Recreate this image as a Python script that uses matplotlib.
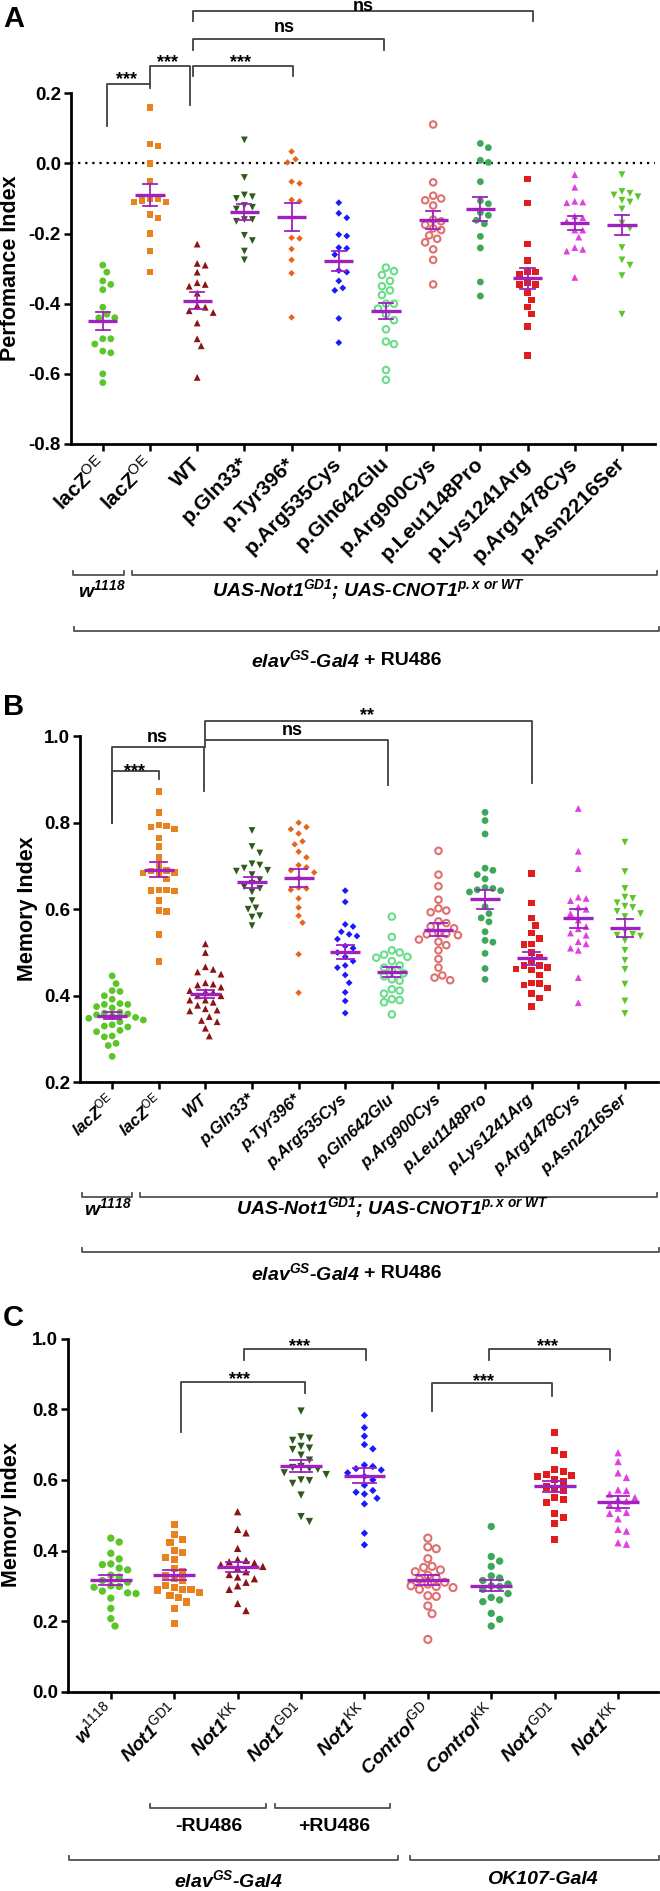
import numpy as np
import matplotlib
matplotlib.use('Agg')
import matplotlib.pyplot as plt
from matplotlib.lines import Line2D
from matplotlib.transforms import offset_copy

plt.rcParams['font.family'] = ['Liberation Sans', 'DejaVu Sans']
plt.rcParams['mathtext.fontset'] = 'custom'
plt.rcParams['mathtext.rm'] = 'Liberation Sans'
plt.rcParams['mathtext.it'] = 'Liberation Sans:italic'
plt.rcParams['mathtext.bf'] = 'Liberation Sans:bold'
plt.rcParams['mathtext.bfit'] = 'Liberation Sans:italic:bold'
plt.rcParams['axes.unicode_minus'] = False

# ---------------- data ----------------
a_labels = ['lacZ$^{\\mathrm{OE}}$', 'lacZ$^{\\mathrm{OE}}$', 'WT', 'p.Gln33*', 'p.Tyr396*',
            'p.Arg535Cys', 'p.Gln642Glu', 'p.Arg900Cys', 'p.Leu1148Pro',
            'p.Lys1241Arg', 'p.Arg1478Cys', 'p.Asn2216Ser']
b_labels = a_labels
c_labels = ['w$^{\\mathrm{1118}}$', 'Not1$^{\\mathrm{GD1}}$', 'Not1$^{\\mathrm{KK}}$',
            'Not1$^{\\mathrm{GD1}}$', 'Not1$^{\\mathrm{KK}}$', 'Control$^{\\mathrm{GD}}$',
            'Control$^{\\mathrm{KK}}$', 'Not1$^{\\mathrm{GD1}}$', 'Not1$^{\\mathrm{KK}}$']

a_yticks = [-0.8, -0.6, -0.4, -0.2, 0.0, 0.2]
b_yticks = [0.2, 0.4, 0.6, 0.8, 1.0]
c_yticks = [0.0, 0.2, 0.4, 0.6, 0.8, 1.0]

# Panel A: performance index
a_lacz_w = [-0.29, -0.31, -0.335, -0.345, -0.36, -0.41, -0.43, -0.44, -0.44, -0.50, -0.50,
            -0.515, -0.535, -0.54, -0.60, -0.625]
a_lacz_uas = [0.16, 0.055, 0.05, 0.0, -0.05, -0.10, -0.10, -0.105, -0.11, -0.11, -0.145,
              -0.155, -0.20, -0.25, -0.31]
a_wt = [-0.23, -0.285, -0.29, -0.31, -0.34, -0.345, -0.35, -0.37, -0.405, -0.41, -0.42,
        -0.425, -0.455, -0.50, -0.52, -0.61]
a_gln33 = [0.067, -0.04, -0.09, -0.095, -0.10, -0.12, -0.125, -0.13, -0.16, -0.16, -0.165,
           -0.205, -0.22, -0.25, -0.275]
a_tyr396 = [0.034, 0.012, 0.003, -0.052, -0.057, -0.104, -0.108, -0.212, -0.214, -0.244,
            -0.275, -0.313, -0.439]
a_arg535 = [-0.112, -0.142, -0.155, -0.203, -0.207, -0.24, -0.242, -0.26, -0.305, -0.31,
            -0.335, -0.355, -0.362, -0.442, -0.511]
a_gln642 = [-0.297, -0.307, -0.318, -0.335, -0.35, -0.362, -0.375, -0.40, -0.40, -0.414,
            -0.43, -0.447, -0.473, -0.508, -0.515, -0.589, -0.617]
a_arg900 = [0.111, -0.054, -0.092, -0.10, -0.105, -0.12, -0.16, -0.165, -0.175, -0.185,
            -0.19, -0.205, -0.215, -0.225, -0.245, -0.275, -0.345]
a_leu1148 = [0.057, 0.045, 0.009, 0.003, -0.052, -0.106, -0.115, -0.14, -0.148, -0.162,
             -0.172, -0.208, -0.241, -0.338, -0.378]
a_lys1241 = [-0.045, -0.113, -0.23, -0.277, -0.31, -0.31, -0.315, -0.34, -0.345, -0.345,
             -0.37, -0.39, -0.41, -0.43, -0.465, -0.548]
a_arg1478 = [-0.032, -0.068, -0.108, -0.11, -0.112, -0.15, -0.155, -0.165, -0.19, -0.19,
             -0.21, -0.24, -0.245, -0.25, -0.325]
a_asn2216 = [-0.032, -0.08, -0.085, -0.09, -0.095, -0.105, -0.11, -0.13, -0.17, -0.185,
             -0.24, -0.275, -0.29, -0.32, -0.43]

# Panel B: memory index
b_lacz_w = [0.446, 0.428, 0.412, 0.41, 0.40, 0.392, 0.382, 0.38, 0.38, 0.375, 0.372, 0.362,
            0.36, 0.358, 0.356, 0.353, 0.35, 0.348, 0.344, 0.34, 0.333, 0.33, 0.328, 0.317,
            0.307, 0.305, 0.29, 0.285, 0.26, 0.32]
b_lacz_uas = [0.872, 0.824, 0.795, 0.792, 0.79, 0.785, 0.765, 0.745, 0.72, 0.70, 0.688,
              0.685, 0.684, 0.68, 0.67, 0.645, 0.645, 0.643, 0.642, 0.62, 0.597, 0.595,
              0.542, 0.479, 0.69]
b_wt = [0.52, 0.50, 0.467, 0.461, 0.455, 0.45, 0.43, 0.427, 0.425, 0.42, 0.412, 0.41,
        0.408, 0.40, 0.40, 0.39, 0.39, 0.378, 0.37, 0.367, 0.365, 0.352, 0.343, 0.34,
        0.325, 0.307, 0.385]
b_gln33 = [0.782, 0.745, 0.73, 0.705, 0.702, 0.695, 0.69, 0.688, 0.68, 0.668, 0.66, 0.652,
           0.648, 0.64, 0.62, 0.603, 0.60, 0.585, 0.582, 0.562]
b_tyr396 = [0.80, 0.79, 0.785, 0.775, 0.757, 0.75, 0.733, 0.72, 0.702, 0.697, 0.69, 0.685,
            0.672, 0.65, 0.648, 0.645, 0.625, 0.604, 0.585, 0.569, 0.496, 0.407]
b_arg535 = [0.643, 0.617, 0.565, 0.56, 0.548, 0.542, 0.538, 0.531, 0.515, 0.51, 0.50, 0.49,
            0.48, 0.47, 0.465, 0.448, 0.43, 0.408, 0.388, 0.36]
b_gln642 = [0.583, 0.536, 0.505, 0.50, 0.495, 0.49, 0.488, 0.48, 0.47, 0.465, 0.458, 0.452,
            0.445, 0.438, 0.435, 0.415, 0.412, 0.405, 0.392, 0.39, 0.385, 0.357]
b_arg900 = [0.735, 0.68, 0.653, 0.622, 0.602, 0.597, 0.593, 0.572, 0.568, 0.56, 0.556,
            0.545, 0.543, 0.542, 0.54, 0.53, 0.525, 0.517, 0.505, 0.485, 0.465, 0.447,
            0.442, 0.436]
b_leu1148 = [0.824, 0.805, 0.774, 0.695, 0.69, 0.68, 0.67, 0.65, 0.648, 0.645, 0.643, 0.64,
             0.58, 0.606, 0.59, 0.571, 0.548, 0.528, 0.524, 0.498, 0.463, 0.438]
b_lys1241 = [0.683, 0.615, 0.58, 0.562, 0.545, 0.532, 0.52, 0.518, 0.50, 0.49, 0.48, 0.47,
             0.465, 0.462, 0.46, 0.448, 0.43, 0.428, 0.425, 0.418, 0.405, 0.395, 0.375, 0.47]
b_arg1478 = [0.833, 0.734, 0.694, 0.628, 0.625, 0.62, 0.605, 0.60, 0.59, 0.575, 0.56, 0.555,
             0.545, 0.54, 0.525, 0.52, 0.51, 0.505, 0.442, 0.384]
b_asn2216 = [0.755, 0.687, 0.648, 0.628, 0.625, 0.615, 0.607, 0.604, 0.595, 0.59, 0.583,
             0.55, 0.542, 0.54, 0.538, 0.528, 0.505, 0.482, 0.461, 0.427, 0.388, 0.359]

# Panel C: memory index
c_w1118 = [0.435, 0.424, 0.392, 0.376, 0.362, 0.36, 0.35, 0.345, 0.33, 0.325, 0.315, 0.31,
           0.30, 0.298, 0.296, 0.285, 0.28, 0.278, 0.265, 0.236, 0.207, 0.186]
c_gd1_minus = [0.474, 0.446, 0.432, 0.423, 0.40, 0.394, 0.381, 0.375, 0.35, 0.34, 0.33, 0.32,
               0.315, 0.30, 0.295, 0.29, 0.29, 0.288, 0.28, 0.272, 0.267, 0.254, 0.236, 0.192]
c_kk_minus = [0.51, 0.46, 0.45, 0.406, 0.375, 0.372, 0.368, 0.365, 0.36, 0.355, 0.35, 0.34,
              0.332, 0.325, 0.32, 0.30, 0.29, 0.31, 0.25, 0.23]
c_gd1_plus = [0.795, 0.722, 0.718, 0.712, 0.695, 0.69, 0.686, 0.67, 0.656, 0.638, 0.635,
              0.632, 0.63, 0.62, 0.615, 0.60, 0.598, 0.59, 0.557, 0.496, 0.482]
c_kk_plus = [0.783, 0.748, 0.724, 0.70, 0.688, 0.642, 0.638, 0.632, 0.628, 0.62, 0.61, 0.60,
             0.585, 0.57, 0.565, 0.56, 0.548, 0.532, 0.449, 0.416]
c_ctrl_gd = [0.435, 0.41, 0.405, 0.377, 0.355, 0.352, 0.345, 0.34, 0.33, 0.322, 0.318, 0.31,
             0.305, 0.30, 0.298, 0.295, 0.29, 0.272, 0.27, 0.243, 0.221, 0.148]
c_ctrl_kk = [0.468, 0.383, 0.37, 0.355, 0.328, 0.322, 0.315, 0.305, 0.30, 0.298, 0.29,
             0.278, 0.267, 0.26, 0.255, 0.222, 0.205, 0.186]
c_gd1_ok = [0.733, 0.684, 0.673, 0.63, 0.625, 0.615, 0.612, 0.61, 0.60, 0.595, 0.58, 0.575,
            0.57, 0.55, 0.545, 0.535, 0.505, 0.494, 0.477, 0.43]
c_kk_ok = [0.677, 0.652, 0.62, 0.607, 0.572, 0.57, 0.56, 0.55, 0.545, 0.54, 0.53, 0.52,
           0.508, 0.505, 0.49, 0.46, 0.455, 0.422, 0.418]

a_series = [a_lacz_w, a_lacz_uas, a_wt, a_gln33, a_tyr396, a_arg535, a_gln642, a_arg900,
            a_leu1148, a_lys1241, a_arg1478, a_asn2216]
b_series = [b_lacz_w, b_lacz_uas, b_wt, b_gln33, b_tyr396, b_arg535, b_gln642, b_arg900,
            b_leu1148, b_lys1241, b_arg1478, b_asn2216]
c_series = [c_w1118, c_gd1_minus, c_kk_minus, c_gd1_plus, c_kk_plus, c_ctrl_gd, c_ctrl_kk,
            c_gd1_ok, c_kk_ok]

# ---------------- styles ----------------
GREEN = '#5cc52a'; ORANGE = '#e8821e'; DRED = '#8b1414'; DGREEN = '#2d5a1b'
ORED = '#e8641a'; BLUE = '#1a1aff'; LGREEN = '#6add8a'; SALMON = '#e07070'
MGREEN = '#3ea85a'; RED = '#e01c1c'; MAGENTA = '#e040e0'
PURPLE = '#a020c0'
BR = '#404040'

ab_styles = [('o', GREEN, True, 24), ('s', ORANGE, True, 22), ('^', DRED, True, 24),
             ('v', DGREEN, True, 24), ('D', ORED, True, 11), ('D', BLUE, True, 12),
             ('o', LGREEN, False, 22), ('o', SALMON, False, 22), ('o', MGREEN, True, 24),
             ('s', RED, True, 22), ('^', MAGENTA, True, 24), ('v', GREEN, True, 24)]
c_styles = [('o', GREEN, True, 28), ('s', ORANGE, True, 26), ('^', DRED, True, 28),
            ('v', DGREEN, True, 28), ('D', BLUE, True, 14), ('o', SALMON, False, 26),
            ('o', MGREEN, True, 28), ('s', RED, True, 26), ('^', MAGENTA, True, 28)]

W, H = 660, 1891
fig = plt.figure(figsize=(W / 100, H / 100), dpi=100)


def fx(x):
    return x / W


def fy(y):
    return 1 - y / H


def make_ax(l, r, t, b):
    return fig.add_axes([fx(l), fy(b), (r - l) / W, (b - t) / H])


def swarm(vals, xpx, ypx, d):
    vals = np.asarray(vals, float)
    order = np.argsort(-vals)
    placed = []
    offs = np.zeros(len(vals))
    cands = [0.0]
    for j in range(1, 40):
        cands += [j * d * 0.5, -j * d * 0.5]
    for i in order:
        y = vals[i] * ypx
        for c in cands:
            if all((c - px) ** 2 + (y - py) ** 2 >= d * d for px, py in placed):
                break
        placed.append((c, y))
        offs[i] = c / xpx
    return offs


def draw_points(ax, series, styles, xpx, ypx, d, hw_m, hw_s):
    for i, (vals, (mk, col, filled, s)) in enumerate(zip(series, styles)):
        v = np.asarray(vals, float)
        x = i + swarm(v, xpx, ypx, d)
        if filled:
            ax.scatter(x, v, s=s, marker=mk, color=col, edgecolors='none', zorder=3, clip_on=False)
        else:
            ax.scatter(x, v, s=s, marker=mk, facecolors='none', edgecolors=col,
                       linewidths=1.5, zorder=3, clip_on=False)
        m = v.mean()
        se = v.std(ddof=1) / np.sqrt(len(v))
        ax.plot([i - hw_m, i + hw_m], [m, m], color=PURPLE, lw=2.4, zorder=5, solid_capstyle='butt')
        for yy in (m - se, m + se):
            ax.plot([i - hw_s, i + hw_s], [yy, yy], color=PURPLE, lw=1.3, zorder=5)
        ax.plot([i, i], [m - se, m + se], color=PURPLE, lw=1.3, zorder=5)


def style_ax(ax, xlim, ylim, yticks, labels, xfs, italic, rot, xpad=6):
    ax.set_xlim(*xlim)
    ax.set_ylim(*ylim)
    for sp in ('top', 'right'):
        ax.spines[sp].set_visible(False)
    for sp in ('left', 'bottom'):
        ax.spines[sp].set_linewidth(2.0)
    ax.set_yticks(yticks)
    ax.set_yticklabels(['%.1f' % t for t in yticks], fontsize=13.5, fontweight='bold')
    ax.set_xticks(range(len(labels)))
    ax.set_xticklabels(labels, rotation=rot, ha='right', va='center', rotation_mode='anchor',
                       fontsize=xfs, fontweight='bold', fontstyle='italic' if italic else 'normal')
    ax.tick_params(axis='both', width=1.8, length=5)
    ax.tick_params(axis='y', pad=2)
    ax.tick_params(axis='x', pad=xpad)


def comp(ax, x0, x1, ytop, yl, yr, text, tx, ty, fs=13):
    ax.plot([x0, x0, x1, x1], [yl, ytop, ytop, yr], color=BR, lw=1.3, clip_on=False)
    em = fs / 0.72
    off = 0.585 * em if '*' in text else 0.27 * em
    tr = offset_copy(ax.transData, fig=fig, x=0, y=-off, units='dots')
    ax.text(tx, ty, text, transform=tr, ha='center', va='baseline', fontsize=fs,
            fontweight='bold', clip_on=False)


def gbracket(x0, x1, y, up=4):
    fig.add_artist(Line2D([fx(x0), fx(x0), fx(x1), fx(x1)], [fy(y - up), fy(y), fy(y), fy(y - up)],
                          color='#505050', lw=1.3))


def ftext(x, y, s, fs=14, style='italic', ha='center', weight='bold'):
    fig.text(fx(x), fy(y), s, ha=ha, va='center', fontsize=fs, fontweight=weight, fontstyle=style)


# ---------------- Panel A ----------------
axA = make_ax(70.7, 655, 93.3, 444)
style_ax(axA, (-0.68, 11.70), (-0.8, 0.2), a_yticks, a_labels, 15, False, 45, xpad=7)
draw_points(axA, a_series, ab_styles, 47.2, 351, 8.0, 0.31, 0.15)
axA.axhline(0, color='black', lw=1.6, ls=(0, (1, 2.2)), zorder=1)
comp(axA, 0.08, 1.0, 0.226, 0.107, 0.215, '***', 0.51, 0.255)
comp(axA, 1.0, 1.85, 0.278, 0.226, 0.167, '***', 1.38, 0.306)
comp(axA, 1.92, 4.02, 0.278, 0.249, 0.249, '***', 2.91, 0.306)
comp(axA, 1.92, 5.95, 0.354, 0.323, 0.323, 'ns', 3.84, 0.39)
comp(axA, 1.92, 9.12, 0.435, 0.407, 0.407, 'ns', 5.51, 0.448)
fig.text(fx(11), fy(268), 'Perfomance Index', rotation=90, ha='center', va='center',
         fontsize=15.5, fontweight='bold')
fig.text(fx(3), fy(19), 'A', ha='left', va='center', fontsize=21, fontweight='bold')

gbracket(72.8, 124, 575)
gbracket(132, 656.5, 575)
ftext(101.5, 590, 'w$^{\\mathbfit{1118}}$')
ftext(368, 590, 'UAS-Not1$^{\\mathbfit{GD1}}$; UAS-CNOT1$^{\\mathbfit{p.x\\ or\\ WT}}$')
gbracket(74, 658.6, 631)
ftext(360, 660, 'elav$^{\\mathbfit{GS}}$-Gal4', ha='right')
ftext(364, 660, '+ RU486', style='normal', ha='left')

# ---------------- Panel B ----------------
axB = make_ax(80, 658, 736.2, 1082.3)
style_ax(axB, (-0.69, 11.71), (0.2, 1.0), b_yticks, b_labels, 12, True, 42)
draw_points(axB, b_series, ab_styles, 46.6, 432.5, 7.8, 0.32, 0.18)
comp(axB, 0.0, 1.0, 0.92, 0.80, 0.901, '***', 0.48, 0.933)
comp(axB, 0.0, 1.97, 0.976, 0.80, 0.874, 'ns', 0.97, 0.999)
comp(axB, 2.0, 5.92, 0.991, 0.976, 0.887, 'ns', 3.86, 1.013)
comp(axB, 2.0, 9.0, 1.034, 0.991, 0.891, '**', 5.47, 1.061)
fig.text(fx(27), fy(909), 'Memory Index', rotation=90, ha='center', va='center',
         fontsize=15.5, fontweight='bold')
fig.text(fx(3), fy(707), 'B', ha='left', va='center', fontsize=21, fontweight='bold')

gbracket(81.6, 132, 1197)
gbracket(139.6, 656.5, 1197)
ftext(108, 1208, 'w$^{\\mathbfit{1118}}$')
ftext(392.5, 1208, 'UAS-Not1$^{\\mathbfit{GD1}}$; UAS-CNOT1$^{\\mathbfit{p.x\\ or\\ WT}}$')
gbracket(81.6, 658.6, 1251.7)
ftext(360, 1273, 'elav$^{\\mathbfit{GS}}$-Gal4', ha='right')
ftext(364, 1273, '+ RU486', style='normal', ha='left')

# ---------------- Panel C ----------------
axC = make_ax(67.7, 658, 1338.7, 1691.7)
style_ax(axC, (-0.68, 8.63), (0.0, 1.0), c_yticks, c_labels, 14, True, 45)
draw_points(axC, c_series, c_styles, 63.4, 353, 8.4, 0.33, 0.18)
comp(axC, 1.10, 3.07, 0.8765, 0.737, 0.845, '***', 2.03, 0.902)
comp(axC, 2.10, 4.02, 0.971, 0.94, 0.94, '***', 2.98, 0.996)
comp(axC, 5.06, 6.96, 0.874, 0.795, 0.838, '***', 5.88, 0.897)
comp(axC, 5.96, 7.87, 0.971, 0.94, 0.94, '***', 6.89, 0.996)
fig.text(fx(12), fy(1515), 'Memory Index', rotation=90, ha='center', va='center',
         fontsize=15.5, fontweight='bold')
fig.text(fx(3), fy(1318), 'C', ha='left', va='center', fontsize=21, fontweight='bold')

gbracket(150, 265.6, 1807.7)
gbracket(275, 390, 1807.7)
ftext(209, 1826.7, '-RU486', style='normal')
ftext(334, 1826.7, '+RU486', style='normal')
gbracket(68.5, 397.6, 1860)
gbracket(410, 658.5, 1860)
ftext(228.4, 1880, 'elav$^{\\mathbfit{GS}}$-Gal4')
ftext(542.7, 1880, 'OK107-Gal4')

fig.savefig('out.png', dpi=100)
